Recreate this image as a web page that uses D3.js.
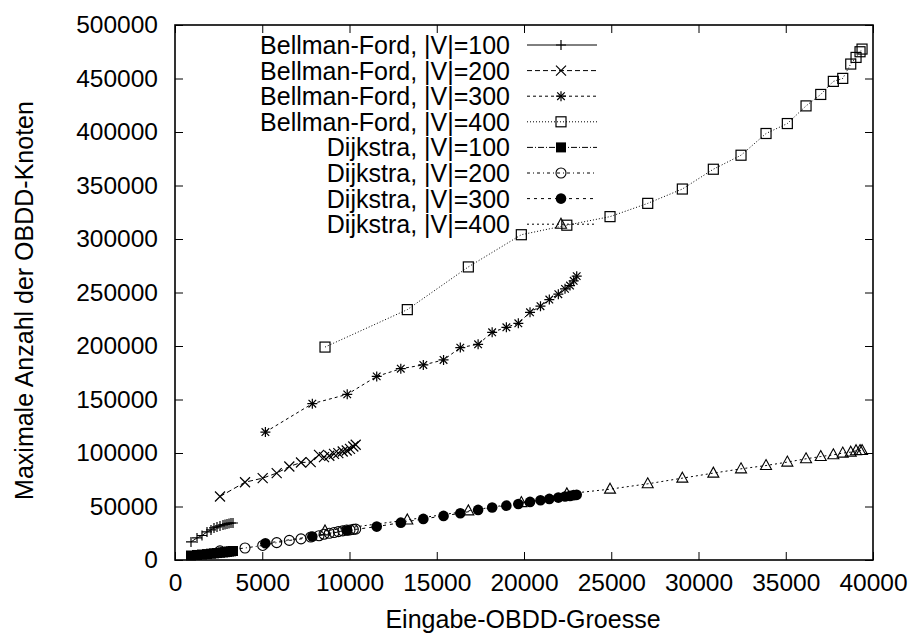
<html>
<head>
    <script src="https://d3js.org/d3.v7.min.js"></script>
</head>
<style>
body { margin: 0; background: white; }
text { font-family: "Liberation Sans", Arial, sans-serif; font-size: 25px; fill: black; }
</style>
<body>
<script>

// x values shared by the Bellman-Ford and Dijkstra runs of the same |V|
var x100 = [917, 1261, 1547, 1834, 2063, 2235, 2407, 2579, 2751, 2866, 2980, 3095, 3209, 3324];
var x200 = [2579, 4012, 5026, 5828, 6551, 7221, 7777, 8253, 8539, 8843, 9112, 9359, 9611, 9840, 10029, 10218, 10356];
var x300 = [5180, 7870, 9870, 11560, 12940, 14230, 15390, 16350, 17370, 18175, 18990, 19675, 20345, 20945, 21451, 21967, 22351, 22637, 22847, 23021];
var x400 = [8597, 13313, 16810, 19847, 22454, 24930, 27090, 29074, 30850, 32437, 33870, 35091, 36163, 37005, 37727, 38266, 38724, 39028, 39257, 39372];

var bf100 = [16900, 20600, 22900, 26200, 28100, 30000, 30900, 31800, 32800, 33200, 33700, 34200, 34600, 34600];
var bf200 = [59300, 72700, 76500, 81200, 87400, 91100, 91500, 98300, 96200, 97400, 99200, 99900, 101400, 102300, 103900, 106100, 107700];
var bf300 = [119600, 146100, 154800, 171600, 178800, 182300, 187000, 198500, 201600, 212800, 217500, 221200, 231500, 237200, 243400, 248400, 253400, 256500, 260900, 265300];
var bf400 = [199000, 234000, 273900, 304000, 312900, 320900, 333300, 346700, 365200, 378300, 398600, 407900, 424400, 435100, 447300, 450100, 463500, 469700, 475000, 477500];

var dj100 = [4200, 4700, 5100, 5500, 5900, 6200, 6500, 6800, 7100, 7300, 7600, 7900, 8100, 8400];
var dj200 = [8500, 11200, 13600, 16200, 18300, 19700, 21500, 22700, 24100, 25000, 25700, 26500, 27200, 28000, 28100, 28600, 28900];
var dj300 = [15600, 22000, 27600, 31200, 34900, 38400, 41200, 43700, 46800, 49000, 50800, 52400, 54300, 55900, 57100, 58300, 59300, 59900, 60600, 60900];
var dj400 = [27200, 37450, 45900, 53650, 61800, 66200, 71200, 76500, 81200, 85200, 88300, 91500, 94600, 96700, 98300, 99900, 100800, 102100, 102300, 102300];

var labels = ["Bellman-Ford, |V|=100", "Bellman-Ford, |V|=200", "Bellman-Ford, |V|=300", "Bellman-Ford, |V|=400",
              "Dijkstra, |V|=100", "Dijkstra, |V|=200", "Dijkstra, |V|=300", "Dijkstra, |V|=400"];
var xTicks = [0, 5000, 10000, 15000, 20000, 25000, 30000, 35000, 40000];
var yTicks = [0, 50000, 100000, 150000, 200000, 250000, 300000, 350000, 400000, 450000, 500000];

var series = [
  {name: labels[0], xs: x100, ys: bf100, dash: null,      mark: "plus"},
  {name: labels[1], xs: x200, ys: bf200, dash: "5,3",     mark: "cross"},
  {name: labels[2], xs: x300, ys: bf300, dash: "3,3",     mark: "star"},
  {name: labels[3], xs: x400, ys: bf400, dash: "1,2",     mark: "box"},
  {name: labels[4], xs: x100, ys: dj100, dash: "6,2,1,2", mark: "fbox"},
  {name: labels[5], xs: x200, ys: dj200, dash: "3,3,1,3", mark: "circle"},
  {name: labels[6], xs: x300, ys: dj300, dash: "3,4",     mark: "fcircle"},
  {name: labels[7], xs: x400, ys: dj400, dash: "2,3",     mark: "tri"}
];

var margin = {top: 25, right: 44, bottom: 79, left: 175},
    width = 917 - margin.left - margin.right,
    height = 639 - margin.top - margin.bottom;

var x = d3.scaleLinear().domain([0, 40000]).range([0, width]);
var y = d3.scaleLinear().domain([0, 500000]).range([height, 0]);

var svg = d3.select("body").append("svg")
    .attr("width", 917)
    .attr("height", 639)
  .append("g")
    .attr("transform", "translate(" + margin.left + "," + margin.top + ")");

// gnuplot style: ticks inward on all four sides
var tl = 8;
svg.append("g").attr("transform", "translate(0," + height + ")")
    .call(d3.axisBottom(x).tickValues(xTicks).tickSize(-tl).tickPadding(14).tickFormat(d3.format("d")));
svg.append("g").call(d3.axisTop(x).tickValues(xTicks).tickSize(-tl).tickFormat(""));
svg.append("g").call(d3.axisLeft(y).tickValues(yTicks).tickSize(-tl).tickPadding(17).tickFormat(d3.format("d")));
svg.append("g").attr("transform", "translate(" + width + ",0)")
    .call(d3.axisRight(y).tickValues(yTicks).tickSize(-tl).tickFormat(""));
svg.selectAll(".domain").remove();
svg.selectAll(".tick line").attr("stroke", "black").attr("stroke-width", 1);
svg.selectAll(".tick text").style("font-size", "24.5px").style("font-family", "Liberation Sans, Arial, sans-serif");

svg.append("rect").attr("width", width).attr("height", height)
    .attr("fill", "none").attr("stroke", "black").attr("stroke-width", 1.6);

svg.append("text")
    .attr("transform", "translate(" + (33 - margin.left) + "," + (height / 2 + 8) + ") rotate(-90)")
    .style("text-anchor", "middle")
    .text("Maximale Anzahl der OBDD-Knoten");
svg.append("text")
    .attr("x", width / 2 - 1).attr("y", height + 68)
    .style("text-anchor", "middle")
    .text("Eingabe-OBDD-Groesse");

function marker(g, type, cx, cy) {
  var s = 5;
  if (type == "plus" || type == "star") {
    g.append("path").attr("d", "M" + (cx - s) + "," + cy + "H" + (cx + s) + "M" + cx + "," + (cy - s) + "V" + (cy + s))
      .attr("stroke", "black").attr("stroke-width", 1.2);
  }
  if (type == "cross" || type == "star") {
    var c = type == "star" ? 3.8 : 5;
    g.append("path").attr("d", "M" + (cx - c) + "," + (cy - c) + "L" + (cx + c) + "," + (cy + c) +
                               "M" + (cx - c) + "," + (cy + c) + "L" + (cx + c) + "," + (cy - c))
      .attr("stroke", "black").attr("stroke-width", 1.2);
  }
  if (type == "box") {
    g.append("rect").attr("x", cx - 5).attr("y", cy - 5).attr("width", 10).attr("height", 10)
      .attr("fill", "none").attr("stroke", "black").attr("stroke-width", 1.2);
  }
  if (type == "fbox") {
    g.append("rect").attr("x", cx - 5).attr("y", cy - 5).attr("width", 10).attr("height", 10).attr("fill", "black");
  }
  if (type == "circle") {
    g.append("circle").attr("cx", cx).attr("cy", cy).attr("r", 5)
      .attr("fill", "none").attr("stroke", "black").attr("stroke-width", 1.1);
  }
  if (type == "fcircle") {
    g.append("circle").attr("cx", cx).attr("cy", cy).attr("r", 5.3).attr("fill", "black");
  }
  if (type == "tri") {
    g.append("path").attr("d", "M" + cx + "," + (cy - 6) + "L" + (cx + 5.5) + "," + (cy + 4) + "L" + (cx - 5.5) + "," + (cy + 4) + "Z")
      .attr("fill", "none").attr("stroke", "black").attr("stroke-width", 1.1);
  }
}

var line = d3.line().x(function(d) { return x(d[0]); }).y(function(d) { return y(d[1]); });

series.forEach(function(s, i) {
  var g = svg.append("g");
  // legend key
  var ly = 20 + i * 25.6;
  g.append("text").attr("x", 335).attr("y", ly + 9).style("text-anchor", "end").text(s.name);
  g.append("line").attr("x1", 352).attr("x2", 422).attr("y1", ly).attr("y2", ly)
    .attr("stroke", "black").attr("stroke-width", 1).attr("stroke-dasharray", s.dash);
  marker(g, s.mark, 386, ly);

  var pts = s.xs.map(function(v, j) { return [v, s.ys[j]]; });
  g.append("path").datum(pts).attr("d", line)
    .attr("fill", "none").attr("stroke", "black").attr("stroke-width", 1).attr("stroke-dasharray", s.dash);
  pts.forEach(function(p) { marker(g, s.mark, x(p[0]), y(p[1])); });
});

</script>
</body>
</html>
